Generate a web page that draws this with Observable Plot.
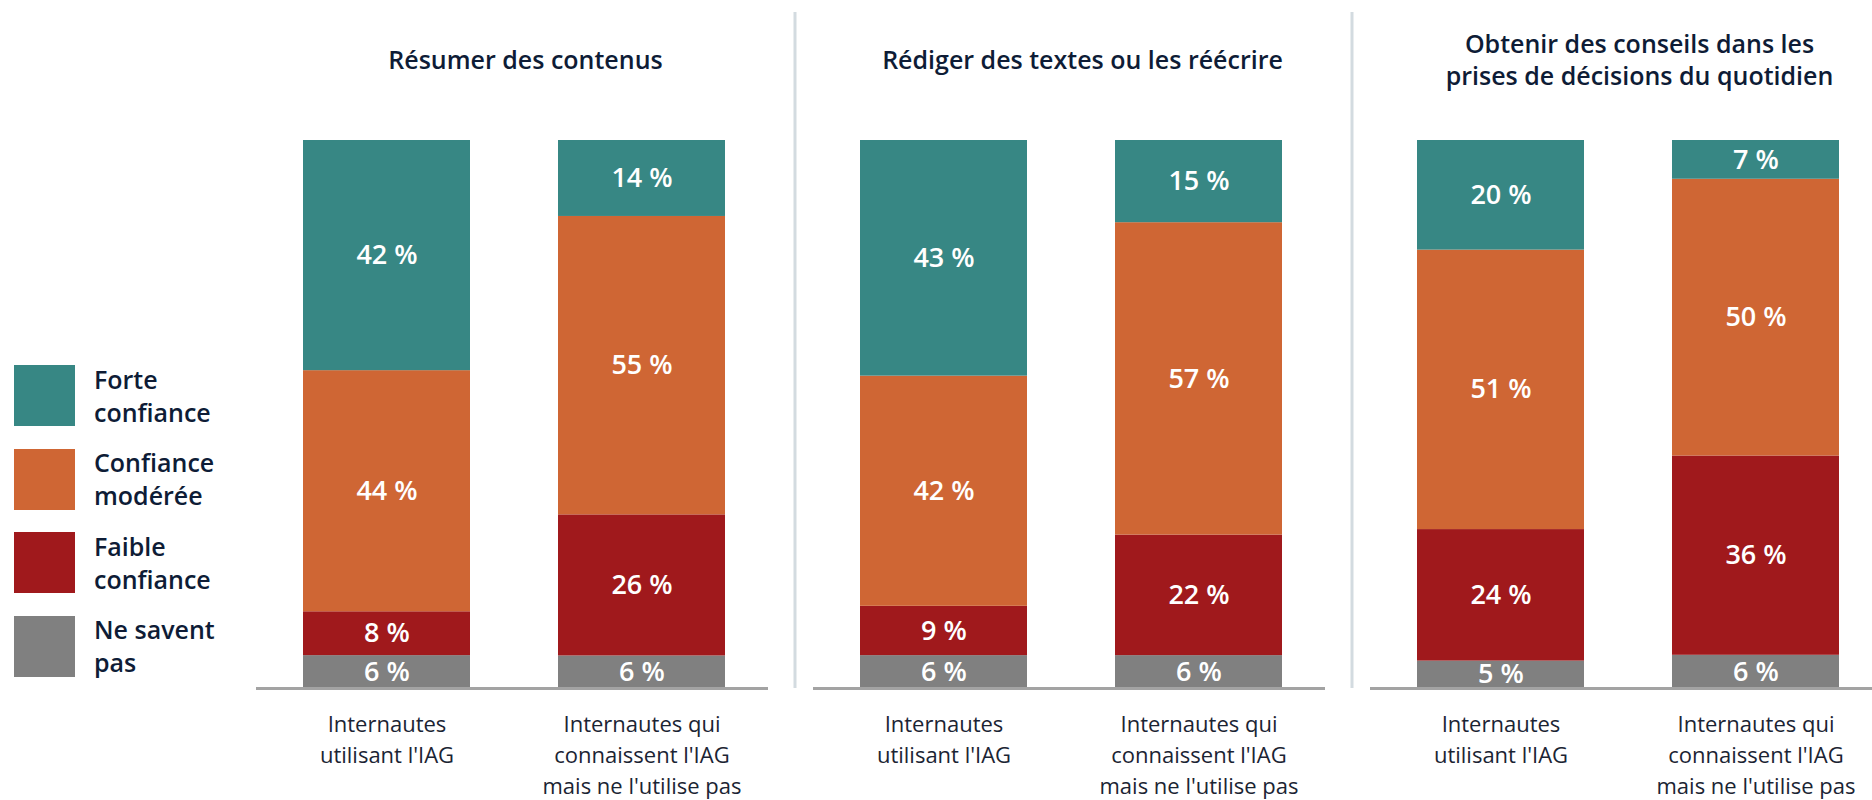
<!DOCTYPE html>
<html><head><meta charset="utf-8">
<script src="https://cdn.jsdelivr.net/npm/d3@7"></script>
<script src="https://cdn.jsdelivr.net/npm/@observablehq/plot@0.6"></script>
<style>
body{margin:0;background:#fff;font-family:"Open Sans",sans-serif;}
#wrap{position:relative;width:1872px;height:800px;overflow:hidden;}
#chart{position:absolute;left:0;top:0;}
#legend{position:absolute;left:14px;top:365px;}
.item{display:flex;align-items:center;height:61px;margin-bottom:22.67px;}
.sw{width:61px;height:61px;flex:none;}
.lab{margin-left:19px;font-size:25px;font-weight:600;line-height:33px;color:#0e1c36;white-space:pre;}
</style></head><body>
<div id="wrap"><div id="chart"></div><div id="legend"></div></div>
<script>
// Panels (tasks)
const tasks = ["Résumer des contenus", "Rédiger des textes ou les réécrire", "Obtenir des conseils dans les prises de décisions du quotidien"];
const taskTitles = ["Résumer des contenus", "Rédiger des textes ou les réécrire", "Obtenir des conseils dans les\nprises de décisions du quotidien"];
// Groups within each panel
const groups = ["Internautes utilisant l'IAG", "Internautes qui connaissent l'IAG mais ne l'utilise pas"];
const groupLabels = ["Internautes\nutilisant l'IAG", "Internautes qui\nconnaissent l'IAG\nmais ne l'utilise pas"];
// Categories, bottom to top of the stack
const categories = ["Ne savent pas", "Faible confiance", "Confiance modérée", "Forte confiance"];
const legendLabels = ["Ne savent\npas", "Faible\nconfiance", "Confiance\nmodérée", "Forte\nconfiance"];
const colors = ["#808080", "#a0191c", "#cf6634", "#378784"];
// Values (%) in order: panel1 g1, panel1 g2, panel2 g1, panel2 g2, panel3 g1, panel3 g2
const neSaventPas = [6, 6, 6, 6, 5, 6];
const faible = [8, 26, 9, 22, 24, 36];
const moderee = [44, 55, 42, 57, 51, 50];
const forte = [42, 14, 43, 15, 20, 7];

const series = [neSaventPas, faible, moderee, forte];
const cells = [];
tasks.forEach((t) => groups.forEach((g) => cells.push({task: t, group: g})));
const data = [];
categories.forEach((c, ci) => cells.forEach((cell, k) => data.push({...cell, cat: c, value: series[ci][k]})));

const font = '"Open Sans", sans-serif';
const stackOpts = {x: "group", y: "value", fx: "task", z: "cat", order: categories, offset: "normalize"};

const plot = Plot.plot({
  width: 1872, height: 800,
  marginLeft: 270, marginRight: 0, marginTop: 140, marginBottom: 112,
  style: {fontFamily: font, background: "transparent", overflow: "visible"},
  fx: {domain: tasks, paddingInner: 0.124, paddingOuter: 0, axis: null, label: null},
  x: {domain: groups, paddingInner: 0.345, paddingOuter: 0.129, axis: null, label: null},
  y: {domain: [0, 1], axis: null, label: null},
  color: {domain: categories, range: colors},
  marks: [
    Plot.ruleX(tasks.slice(1), {fx: d => d, x: () => groups[0], dx: -149, insetTop: -128, stroke: "#d3dbe0", strokeWidth: 3}),
    Plot.barY(data, Plot.stackY({...stackOpts, fill: "cat"})),
    Plot.ruleY([0], {stroke: "#a3a3a3", strokeWidth: 3, insetLeft: -14, insetRight: -10}),
    Plot.text(data, Plot.stackY({...stackOpts, text: d => `${d.value} %`, fill: "white", fontSize: 27, fontWeight: 600})),
    Plot.text(tasks, {fx: d => d, text: (d, i) => taskTitles[i], frameAnchor: "top", dy: -82, dx: 11, lineAnchor: "middle", lineHeight: 1.3, fontSize: 25, fontWeight: 600, fill: "#0e1c36"}),
    Plot.text(cells, {fx: "task", x: "group", text: d => groupLabels[groups.indexOf(d.group)], frameAnchor: "bottom", lineAnchor: "top", dy: 21, lineHeight: 1.42, fontSize: 22, fill: "#1b2433"})
  ]
});
document.getElementById("chart").appendChild(plot);

const leg = document.getElementById("legend");
for (let i = categories.length - 1; i >= 0; i--) {
  const item = document.createElement("div");
  item.className = "item";
  const sw = document.createElement("div");
  sw.className = "sw";
  sw.style.background = plot.scale("color").apply(categories[i]);
  const lab = document.createElement("div");
  lab.className = "lab";
  lab.textContent = legendLabels[i];
  item.appendChild(sw); item.appendChild(lab);
  leg.appendChild(item);
}
</script>
</body></html>
